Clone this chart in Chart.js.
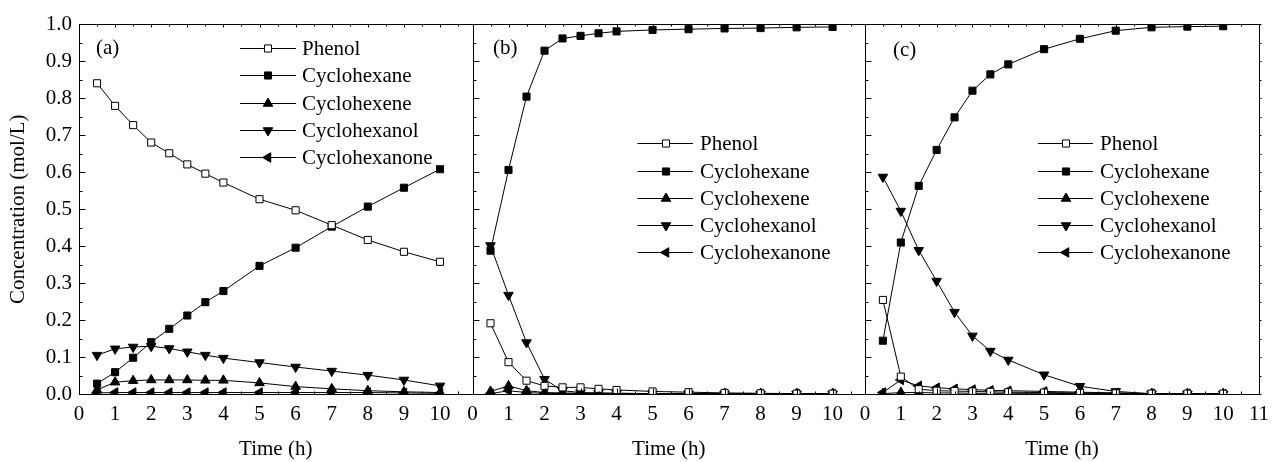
<!DOCTYPE html>
<html><head><meta charset="utf-8">
<script src="https://cdn.jsdelivr.net/npm/chart.js@4.4.1/dist/chart.umd.min.js"></script>
<style>html,body{margin:0;padding:0;background:#fff;}#wrap{width:1277px;height:462px;position:relative;}canvas{display:block;}</style>
</head><body><div id="wrap"><canvas id="c" width="1277" height="462"></canvas></div>
<script>
// ---------------- data ----------------
const times = [0.5, 1, 1.5, 2, 2.5, 3, 3.5, 4, 5, 6, 7, 8, 9, 10];
const seriesNames = ['Phenol', 'Cyclohexane', 'Cyclohexene', 'Cyclohexanol', 'Cyclohexanone'];
const panelLabels = ['(a)', '(b)', '(c)'];
const xMaxes = [10.9, 10.9, 11];
const xTitle = 'Time (h)';
const yTitle = 'Concentration (mol/L)';

// panel (a)
const phenolA        = [0.840, 0.779, 0.727, 0.680, 0.651, 0.621, 0.596, 0.572, 0.527, 0.497, 0.457, 0.417, 0.385, 0.358];
const cyclohexaneA   = [0.029, 0.060, 0.099, 0.141, 0.177, 0.213, 0.249, 0.279, 0.347, 0.396, 0.453, 0.507, 0.558, 0.608];
const cyclohexeneA   = [0.012, 0.033, 0.037, 0.039, 0.039, 0.039, 0.038, 0.038, 0.031, 0.021, 0.015, 0.010, 0.007, 0.005];
const cyclohexanolA  = [0.106, 0.123, 0.128, 0.130, 0.124, 0.115, 0.106, 0.098, 0.086, 0.074, 0.063, 0.052, 0.039, 0.023];
const cyclohexanoneA = [0.004, 0.005, 0.005, 0.005, 0.005, 0.005, 0.005, 0.005, 0.005, 0.005, 0.005, 0.005, 0.004, 0.003];
// panel (b)
const phenolB        = [0.192, 0.087, 0.037, 0.023, 0.019, 0.019, 0.015, 0.012, 0.008, 0.006, 0.004, 0.003, 0.002, 0.002];
const cyclohexaneB   = [0.388, 0.606, 0.804, 0.928, 0.961, 0.968, 0.975, 0.980, 0.984, 0.986, 0.988, 0.989, 0.991, 0.992];
const cyclohexeneB   = [0.008, 0.023, 0.010, 0.005, 0.004, 0.003, 0.003, 0.003, 0.002, 0.002, 0.002, 0.002, 0.002, 0.002];
const cyclohexanolB  = [0.402, 0.268, 0.140, 0.041, 0.010, 0.005, 0.004, 0.003, 0.002, 0.002, 0.001, 0.001, 0.001, 0.001];
const cyclohexanoneB = [0.002, 0.010, 0.005, 0.003, 0.002, 0.002, 0.002, 0.002, 0.001, 0.001, 0.001, 0.001, 0.001, 0.001];
// panel (c)
const phenolC        = [0.255, 0.048, 0.014, 0.010, 0.009, 0.008, 0.007, 0.006, 0.005, 0.004, 0.003, 0.002, 0.002, 0.002];
const cyclohexaneC   = [0.145, 0.410, 0.563, 0.660, 0.748, 0.820, 0.864, 0.891, 0.932, 0.960, 0.982, 0.991, 0.993, 0.994];
const cyclohexeneC   = [0.002, 0.005, 0.005, 0.004, 0.004, 0.003, 0.003, 0.003, 0.003, 0.002, 0.002, 0.002, 0.002, 0.002];
const cyclohexanolC  = [0.587, 0.495, 0.389, 0.306, 0.222, 0.158, 0.117, 0.093, 0.053, 0.022, 0.008, 0.002, 0.001, 0.001];
const cyclohexanoneC = [0.005, 0.039, 0.023, 0.018, 0.015, 0.013, 0.011, 0.010, 0.008, 0.006, 0.004, 0.002, 0.002, 0.001];

const panelSeries = [
  [phenolA, cyclohexaneA, cyclohexeneA, cyclohexanolA, cyclohexanoneA],
  [phenolB, cyclohexaneB, cyclohexeneB, cyclohexanolB, cyclohexanoneB],
  [phenolC, cyclohexaneC, cyclohexeneC, cyclohexanolC, cyclohexanoneC]
];

// ---------------- styles ----------------
const FONT = "'Liberation Serif','Times New Roman',Times,serif";
const markerStyles = [
  {pointStyle: 'rect', rotation: 0, fill: '#ffffff', radius: 5},
  {pointStyle: 'rect', rotation: 0, fill: '#000000', radius: 5},
  {pointStyle: 'triangle', rotation: 0, fill: '#000000', radius: 5.5},
  {pointStyle: 'triangle', rotation: 180, fill: '#000000', radius: 5.5},
  {pointStyle: 'triangle', rotation: 270, fill: '#000000', radius: 5.5}
];
const axisIds = ['xa', 'xb', 'xc'];
const stackWeights = [393.5, 392.5, 394];
const legendLayout = [
  {lineL: 161, lineR: 217, mark: 189, text: 223, top: 48.3},
  {lineL: 165, lineR: 220.5, mark: 193.5, text: 227.5, top: 143.4},
  {lineL: 173, lineR: 228, mark: 201, text: 235, top: 143.4}
];
const legendStep = 27.1;
const panelLabelPos = [{dx: 17, y: 48}, {dx: 20.5, y: 48}, {dx: 28, y: 50}];

const datasets = [];
panelSeries.forEach((series, p) => {
  series.forEach((vals, s) => {
    const st = markerStyles[s];
    datasets.push({
      label: seriesNames[s],
      data: times.map((t, i) => ({x: t, y: vals[i]})),
      xAxisID: axisIds[p], yAxisID: 'y',
      borderColor: '#000', borderWidth: 1, tension: 0, fill: false,
      pointStyle: st.pointStyle, pointRotation: st.rotation, pointRadius: st.radius,
      pointBackgroundColor: st.fill, pointBorderColor: '#000', pointBorderWidth: 1
    });
  });
});

function drawMarker(ctx, st, x, y) {
  ctx.beginPath();
  if (st.pointStyle === 'rect') {
    const s = st.radius * Math.SQRT1_2;
    ctx.rect(x - s, y - s, 2 * s, 2 * s);
  } else {
    let rad = st.rotation * Math.PI / 180;
    for (let i = 0; i < 3; i++) {
      const px = x + Math.sin(rad) * st.radius, py = y - Math.cos(rad) * st.radius;
      if (i) ctx.lineTo(px, py); else ctx.moveTo(px, py);
      rad += 2 * Math.PI / 3;
    }
    ctx.closePath();
  }
  ctx.fillStyle = st.fill; ctx.fill();
  ctx.strokeStyle = '#000'; ctx.lineWidth = 1; ctx.stroke();
}

const decor = {
  id: 'decor',
  afterDatasetsDraw(chart) {
    const ctx = chart.ctx, area = chart.chartArea, ys = chart.scales.y;
    const T = Math.round(area.top) + 0.5, B = Math.round(area.bottom) + 0.5;
    ctx.save();
    ctx.strokeStyle = '#000'; ctx.lineWidth = 1;
    const line = (x1, y1, x2, y2) => { ctx.beginPath(); ctx.moveTo(x1, y1); ctx.lineTo(x2, y2); ctx.stroke(); };
    axisIds.forEach((id, p) => {
      const xs = chart.scales[id];
      const L = Math.round(xs.left) + 0.5, R = Math.round(xs.right) + 0.5;
      ctx.strokeRect(L, T, R - L, B - T);
      for (let k = 0; k * 0.5 <= xs.max + 1e-9; k++) {
        const v = k * 0.5;
        const px = Math.round(xs.getPixelForValue(v)) + 0.5;
        const major = k % 2 === 0;
        line(px, B, px, B - (major ? 6 : 3));
        line(px, T, px, T + (major ? 3 : 2));
      }
      for (let k = 0; k <= 20; k++) {
        const py = Math.round(ys.getPixelForValue(k * 0.05)) + 0.5;
        line(L, py, L + (k % 2 === 0 ? 6 : 3), py);
        if (p === 2) line(R, py, R + 2, py);
      }
      // panel label
      ctx.fillStyle = '#000';
      ctx.font = '21px ' + FONT;
      ctx.textBaseline = 'middle'; ctx.textAlign = 'left';
      ctx.fillText(panelLabels[p], xs.left + panelLabelPos[p].dx, panelLabelPos[p].y);
      // legend
      const lg = legendLayout[p];
      seriesNames.forEach((name, s) => {
        const yy = Math.round(lg.top + s * legendStep) + 0.5;
        ctx.strokeStyle = '#000'; ctx.lineWidth = 1;
        line(xs.left + lg.lineL, yy, xs.left + lg.lineR, yy);
        drawMarker(ctx, markerStyles[s], xs.left + lg.mark, yy);
        ctx.fillStyle = '#000';
        ctx.fillText(name, xs.left + lg.text, yy + 1);
      });
    });
    ctx.restore();
  }
};

function xScale(p) {
  return {
    type: 'linear', position: 'bottom', stack: 'panels', stackWeight: stackWeights[p],
    min: 0, max: xMaxes[p],
    afterBuildTicks: s => { s.ticks = s.ticks.filter(t => Math.abs(t.value - Math.round(t.value)) < 1e-9); },
    afterFit: s => { s.height = 67.6; },
    ticks: {stepSize: 1, includeBounds: false, autoSkip: false, maxRotation: 0, padding: 7, color: '#000', font: {family: FONT, size: 21}},
    grid: {display: false, drawTicks: false},
    border: {display: false},
    title: {display: true, text: xTitle, color: '#000', padding: {top: 0, bottom: 0}, font: {family: FONT, size: 21}}
  };
}

new Chart(document.getElementById('c'), {
  type: 'line',
  data: {datasets},
  options: {
    responsive: false, animation: false, devicePixelRatio: 1, events: [],
    layout: {padding: {left: 0, top: 24, right: 18, bottom: 0}},
    plugins: {legend: {display: false}, tooltip: {enabled: false}},
    scales: {
      y: {
        type: 'linear', position: 'left', min: 0, max: 1,
        afterFit: s => { s.width = 79; },
        ticks: {stepSize: 0.1, padding: 7, color: '#000', font: {family: FONT, size: 21}, callback: v => Number(v).toFixed(1)},
        grid: {display: false, drawTicks: false},
        border: {display: false},
        title: {display: true, text: yTitle, color: '#000', padding: {top: 6, bottom: 0}, font: {family: FONT, size: 21}}
      },
      xa: xScale(0), xb: xScale(1), xc: xScale(2)
    }
  },
  plugins: [decor]
});
</script>
</body></html>
